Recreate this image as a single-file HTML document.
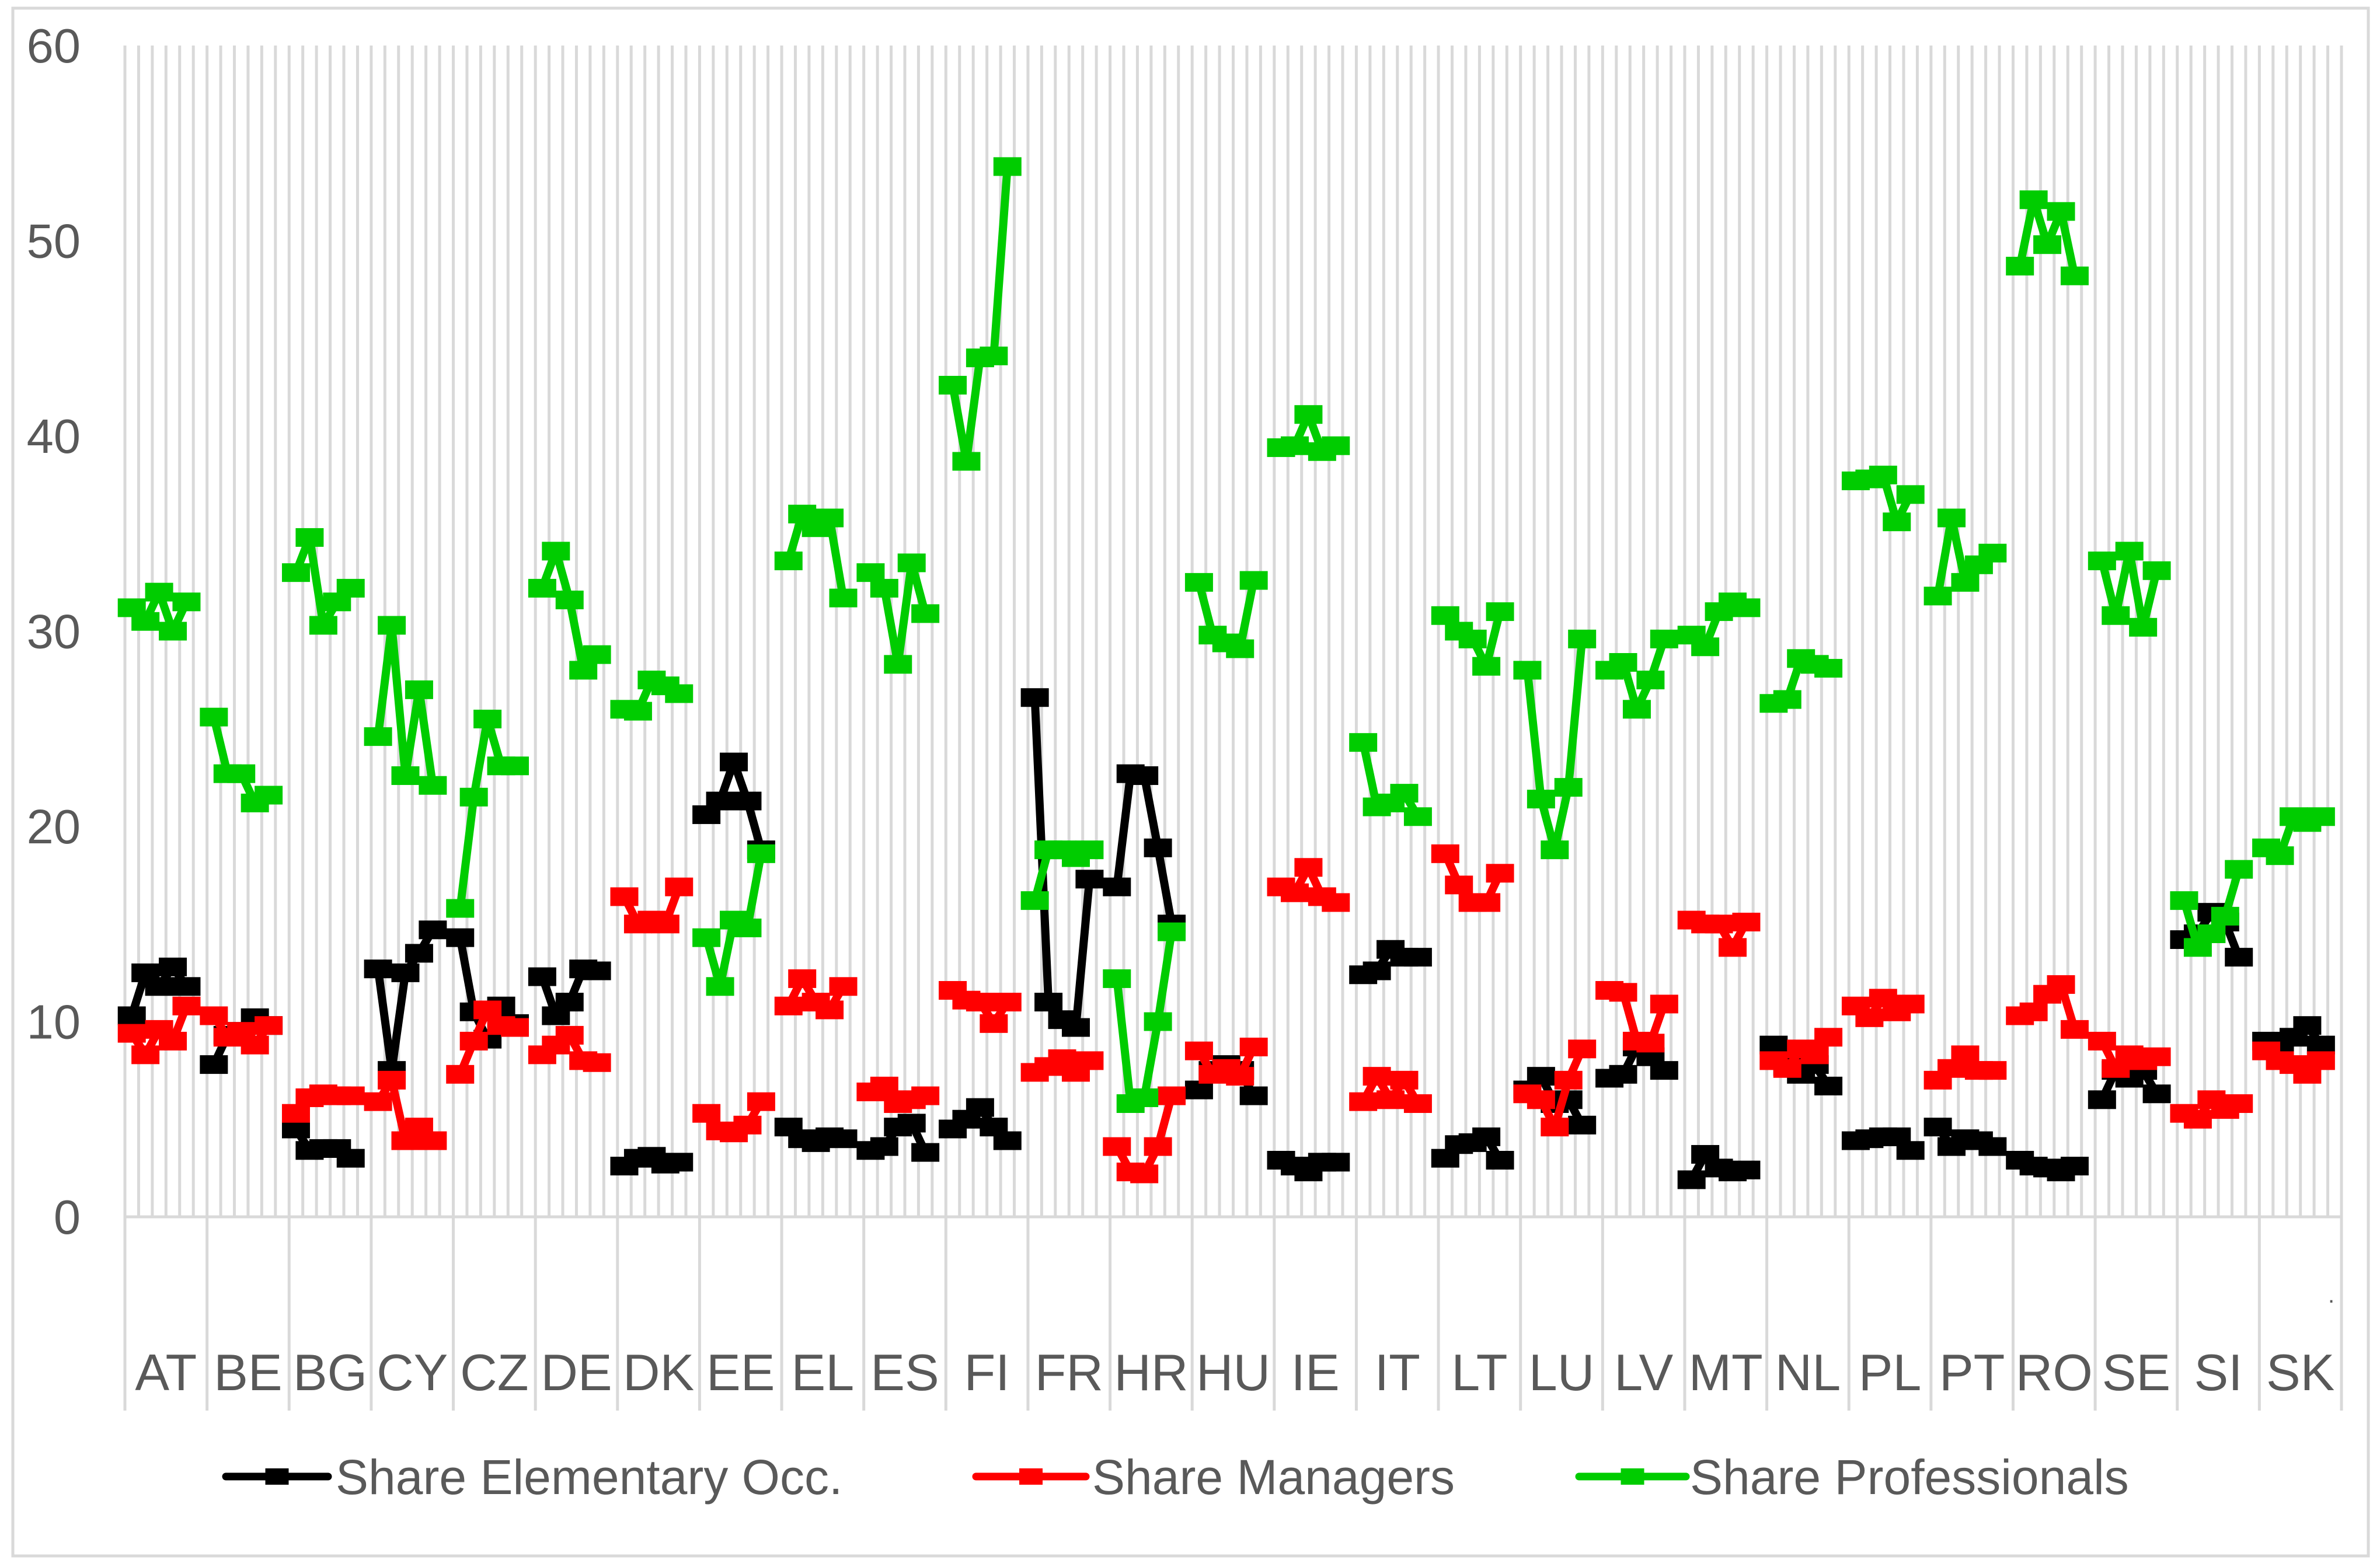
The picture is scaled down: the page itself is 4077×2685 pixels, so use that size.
<!DOCTYPE html>
<html><head><meta charset="utf-8"><style>
html,body{margin:0;padding:0;background:#fff;}
svg{display:block;font-family:"Liberation Sans",sans-serif;}
</style></head><body>
<svg id="chart" width="4077" height="2685" viewBox="0 0 4077 2685" xmlns="http://www.w3.org/2000/svg">
<rect x="22" y="14" width="4035" height="2652" fill="#fff" stroke="#d9d9d9" stroke-width="5"/>
<g id="grid"></g><g id="axes"></g><g id="series"></g><g id="legend"></g>
<text x="3988" y="2232" font-size="40" fill="#595959">.</text>
</svg>
<script>
const countries=["AT","BE","BG","CY","CZ","DE","DK","EE","EL","ES","FI","FR","HR","HU","IE","IT","LT","LU","LV","MT","NL","PL","PT","RO","SE","SI","SK"];
const yTicks=[0,10,20,30,40,50,60];
const elementary=[[10.3,12.5,11.8,12.8,11.8],[7.8,9.3,9.5,10.2,9.8],[4.5,3.4,3.5,3.5,3.0],[12.7,7.5,12.5,13.5,14.7],[14.3,10.5,9.1,10.8,9.9],[12.3,10.3,11.0,12.7,12.6],[2.6,3.0,3.1,2.7,2.8],[20.6,21.3,23.3,21.3,18.8],[4.6,4.0,3.8,4.1,4.0],[3.4,3.6,4.6,4.8,3.3],[4.5,5.0,5.6,4.6,3.9],[26.6,11.0,10.1,9.7,17.3],[16.9,22.7,22.6,18.9,15.0],[6.5,7.5,7.8,7.5,6.2],[2.9,2.6,2.3,2.8,2.8],[12.4,12.6,13.7,13.3,13.3],[3.0,3.7,3.8,4.1,2.9],[6.5,7.2,5.8,6.0,4.7],[7.1,7.3,8.7,8.2,7.5],[1.9,3.2,2.5,2.3,2.4],[8.8,7.7,7.3,7.8,6.7],[3.9,4.0,4.1,4.1,3.4],[4.6,3.6,4.0,3.9,3.6],[2.9,2.6,2.5,2.3,2.6],[6.0,7.5,7.1,7.5,6.3],[14.2,14.5,15.6,15.1,13.3],[9.0,8.5,9.2,9.8,8.8]];
const managers=[[9.4,8.3,9.6,9.0,10.8],[10.3,9.2,9.5,8.8,9.8],[5.3,6.1,6.3,6.2,6.2],[5.9,7.0,3.9,4.6,3.9],[7.3,9.0,10.6,9.8,9.7],[8.3,8.8,9.3,8.0,7.9],[16.4,15.0,15.2,15.0,16.9],[5.3,4.4,4.3,4.7,5.9],[10.8,12.2,11.0,10.6,11.8],[6.4,6.7,5.8,6.0,6.2],[11.6,11.1,11.0,9.9,11.0],[7.4,7.7,8.1,7.4,8.0],[3.6,2.3,2.2,3.6,6.2],[8.5,7.3,7.6,7.2,8.7],[16.9,16.6,17.9,16.4,16.1],[5.9,7.2,6.0,7.0,5.8],[18.6,17.0,16.1,16.1,17.6],[6.3,6.0,4.6,7.0,8.6],[11.6,11.5,9.0,8.9,10.9],[15.2,15.0,15.0,13.8,15.1],[8.0,7.6,8.6,8.3,9.2],[10.8,10.2,11.2,10.5,10.9],[7.0,7.6,8.3,7.5,7.5],[10.3,10.5,11.4,11.9,9.6],[9.0,7.6,8.3,8.0,8.2],[5.3,5.0,6.0,5.5,5.8],[8.5,8.0,7.8,7.3,8.0]];
const professionals=[[31.2,30.5,32.0,30.0,31.5],[25.6,22.7,22.7,21.2,21.6],[33.0,34.8,30.3,31.5,32.2],[24.6,30.3,22.6,27.0,22.1],[15.8,21.5,25.5,23.1,23.1],[32.2,34.1,31.6,28.0,28.8],[26.0,25.9,27.5,27.2,26.8],[14.3,11.8,15.2,14.8,18.6],[33.6,36.0,35.3,35.8,31.7],[33.0,32.2,28.3,33.5,30.9],[42.6,38.7,44.0,44.1,53.8],[16.2,18.8,18.8,18.4,18.8],[12.2,5.8,6.1,10.0,14.6],[32.5,29.8,29.4,29.1,32.6],[39.4,39.5,41.1,39.2,39.5],[24.3,21.0,21.2,21.7,20.5],[30.8,30.0,29.6,28.2,31.0],[28.0,21.4,18.8,22.0,29.6],[28.0,28.4,26.0,27.5,29.6],[29.8,29.2,31.0,31.5,31.2],[26.3,26.5,28.6,28.3,28.1],[37.7,37.8,38.0,35.6,37.0],[31.8,35.8,32.5,33.4,34.0],[48.7,52.1,49.8,51.5,48.2],[33.6,30.8,34.1,30.2,33.1],[16.2,13.8,14.5,15.4,17.8],[18.9,18.5,20.5,20.2,20.5]];
const seriesNames=["Share Elementary Occ.","Share Managers","Share Professionals"];

const NS="http://www.w3.org/2000/svg";
const X0=214,X1=4011,Y0=2085,Y60=78,SLOTS=6;
const cw=(X1-X0)/countries.length, sw=cw/SLOTS;
const y=v=>Y0-(v/60)*(Y0-Y60);
const x=(c,i)=>X0+c*cw+(i+0.5)*sw;
function mk(tag,attrs,parent){const e=document.createElementNS(NS,tag);for(const k in attrs)e.setAttribute(k,attrs[k]);parent.appendChild(e);return e;}
const grid=document.getElementById('grid'),axes=document.getElementById('axes'),ser=document.getElementById('series'),leg=document.getElementById('legend');
for(let c=0;c<=countries.length;c++){
  for(let s=0;s<SLOTS;s++){
    if(c===countries.length&&s>0)break;
    const gx=X0+c*cw+s*sw;
    const l=mk('line',{x1:gx,x2:gx,y1:Y60,y2:s===0?2417:Y0,stroke:'#d9d9d9','stroke-width':5},grid);
    
    
  }
}
const ax=mk('line',{x1:X0,x2:X1,y1:Y0,y2:Y0,stroke:'#d9d9d9','stroke-width':5},axes);


yTicks.forEach(t=>{const e=mk('text',{x:138,y:y(t)+29,'text-anchor':'end','font-size':83,fill:'#595959'},axes);e.textContent=t;

});
countries.forEach((n,c)=>{const e=mk('text',{x:X0+(c+0.5)*cw,y:2382,'text-anchor':'middle','font-size':88,fill:'#595959'},axes);e.textContent=n;

});
const data=[elementary,managers,professionals],colors=['#000000','#ff0000','#00cc00'];
data.forEach((d,si)=>{
  const g=mk('g',{},ser);
  
  
  d.forEach((vals,c)=>{
    const pts=vals.map((v,i)=>x(c,i)+','+y(v)).join(' ');
    const pl=mk('polyline',{points:pts,fill:'none',stroke:colors[si],'stroke-width':14,'stroke-linejoin':'round'},g);
    
    
    vals.forEach((v,i)=>{const r=mk('rect',{x:x(c,i)-24,y:y(v)-16,width:48,height:32,fill:colors[si]},g);
      
      });
  });
});
const legX=[[387,562,575],[1672,1860,1871],[2705,2888,2895]];
seriesNames.forEach((n,i)=>{
  const g=mk('g',{},leg);
  
  
  mk('line',{x1:legX[i][0],x2:legX[i][1],y1:2530,y2:2530,stroke:colors[i],'stroke-width':13,'stroke-linecap':'round'},g);
  const m=(legX[i][0]+legX[i][1])/2;
  mk('rect',{x:m-20,y:2516,width:40,height:28,fill:colors[i]},g);
  const t=mk('text',{x:legX[i][2],y:2560,'font-size':84,fill:'#595959'},g);t.textContent=n;
});
</script>
</body></html>
